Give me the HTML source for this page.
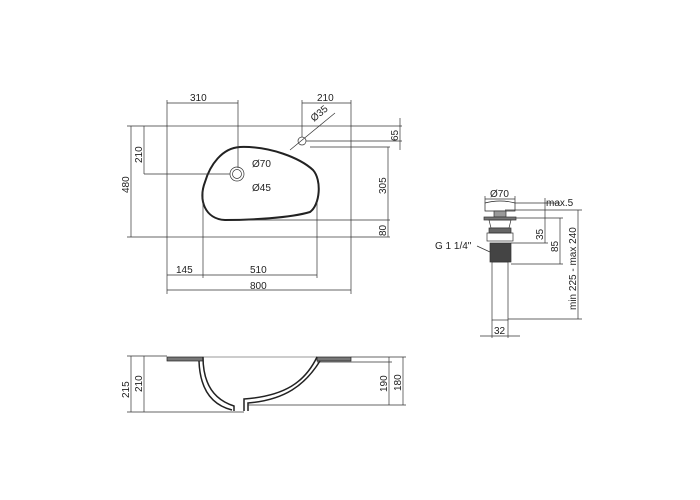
<!DOCTYPE html>
<html><head><meta charset="utf-8"><style>body{margin:0;background:#fff}svg{display:block}text{font-family:"Liberation Sans",sans-serif;font-size:10px;fill:#222}</style></head><body>
<svg width="700" height="500" viewBox="0 0 700 500" xmlns="http://www.w3.org/2000/svg">
<g stroke="#333" stroke-width="0.7" fill="none">
<!-- top view -->
<rect x="167" y="126" width="184" height="111"/>
<path d="M240,147 C270,146 300,158 313,170 C322,180 320,205 310,212 C290,218 250,220 225,220 C205,219 198,200 205,182 C210,165 222,148 240,147 Z" stroke="#222" stroke-width="2"/>
<circle cx="237" cy="174" r="7"/><circle cx="237" cy="174" r="4.5"/>
<circle cx="302" cy="141" r="4"/>
<line x1="167" y1="126" x2="167" y2="100"/><line x1="238" y1="168" x2="238" y2="100"/><line x1="167" y1="103" x2="238" y2="103"/>
<line x1="302" y1="137" x2="302" y2="100"/><line x1="351" y1="126" x2="351" y2="100"/><line x1="302" y1="103" x2="351" y2="103"/>
<line x1="290" y1="150" x2="335" y2="113"/>
<line x1="127" y1="126" x2="167" y2="126"/><line x1="127" y1="237" x2="167" y2="237"/><line x1="131" y1="126" x2="131" y2="237"/>
<line x1="144" y1="126" x2="144" y2="174"/><line x1="144" y1="174" x2="230" y2="174"/>
<line x1="351" y1="126" x2="402" y2="126"/><line x1="306" y1="141" x2="402" y2="141"/><line x1="400" y1="118" x2="400" y2="150"/>
<line x1="310" y1="147" x2="390" y2="147"/><line x1="388" y1="147" x2="388" y2="237"/>
<line x1="240" y1="220" x2="390" y2="220"/><line x1="351" y1="237" x2="390" y2="237"/>
<line x1="167" y1="237" x2="167" y2="294"/><line x1="203" y1="190" x2="203" y2="278"/><line x1="317" y1="200" x2="317" y2="278"/><line x1="351" y1="237" x2="351" y2="294"/>
<line x1="167" y1="275" x2="317" y2="275"/><line x1="167" y1="290" x2="351" y2="290"/>
<!-- side view -->
<line x1="203" y1="357" x2="317" y2="357" stroke="#bbb" stroke-width="1.5"/>
<rect x="167" y="357" width="36" height="4" fill="#777" stroke="#222"/>
<rect x="317" y="357" width="34" height="4" fill="#777" stroke="#222"/>
<path d="M203,357 C203,385 215,400 234,406 V411" stroke="#222" stroke-width="1.5"/>
<path d="M199,361 C200,390 212,405 232,410" stroke="#222" stroke-width="1.5"/>
<path d="M317,357 C305,382 285,396 244,399 V411 M320,361 C305,385 285,400 248,403 V411" stroke="#222" stroke-width="1.5"/>
<line x1="127" y1="356" x2="167" y2="356"/><line x1="127" y1="412" x2="244" y2="412"/><line x1="131" y1="356" x2="131" y2="412"/><line x1="144" y1="356" x2="144" y2="412"/>
<line x1="351" y1="357" x2="406" y2="357"/><line x1="317" y1="362" x2="392" y2="362"/><line x1="248" y1="405" x2="406" y2="405"/>
<line x1="389" y1="357" x2="389" y2="405"/><line x1="403" y1="357" x2="403" y2="405"/>
<!-- drain -->
<path d="M485,211 V203 Q500,199 515,203 V211 Z" stroke="#222"/>
<rect x="494" y="211" width="12" height="6" fill="#999"/>
<rect x="484" y="217" width="32" height="3" fill="#777"/>
<path d="M489,220 H511 L509,228 H491 Z"/>
<rect x="489" y="228" width="22" height="5" fill="#666"/>
<rect x="487" y="233" width="26" height="8"/>
<rect x="490" y="243" width="21" height="19" fill="#444"/>
<rect x="492" y="262" width="16" height="58"/>
<line x1="485" y1="203" x2="485" y2="196"/><line x1="515" y1="203" x2="515" y2="196"/><line x1="485" y1="199" x2="515" y2="199"/>
<line x1="515" y1="203" x2="560" y2="203"/><line x1="505" y1="210" x2="582" y2="210"/><line x1="516" y1="218" x2="563" y2="218"/>
<line x1="511" y1="243" x2="548" y2="243"/><line x1="511" y1="264" x2="563" y2="264"/><line x1="508" y1="319" x2="582" y2="319"/>
<line x1="545" y1="198" x2="545" y2="243"/><line x1="560" y1="218" x2="560" y2="264"/><line x1="578" y1="210" x2="578" y2="319"/>
<line x1="492" y1="320" x2="492" y2="338"/><line x1="508" y1="320" x2="508" y2="338"/><line x1="480" y1="336" x2="520" y2="336"/>
<line x1="477" y1="246" x2="490" y2="252"/>
</g>
<text x="190" y="101">310</text><text x="317" y="101">210</text>
<text x="314" y="122" transform="rotate(-40 314 122)">Ø35</text>
<text x="252" y="167">Ø70</text><text x="252" y="191">Ø45</text>
<text transform="translate(129,193) rotate(-90)">480</text>
<text transform="translate(142,163) rotate(-90)">210</text>
<text transform="translate(398,141) rotate(-90)">65</text>
<text transform="translate(386,194) rotate(-90)">305</text>
<text transform="translate(386,236) rotate(-90)">80</text>
<text x="176" y="273">145</text><text x="250" y="273">510</text><text x="250" y="289">800</text>
<text transform="translate(129,398) rotate(-90)">215</text>
<text transform="translate(142,392) rotate(-90)">210</text>
<text transform="translate(387,392) rotate(-90)">190</text>
<text transform="translate(401,391) rotate(-90)">180</text>
<text x="490" y="197">Ø70</text><text x="546" y="206">max.5</text>
<text transform="translate(543,240) rotate(-90)">35</text>
<text transform="translate(558,252) rotate(-90)">85</text>
<text transform="translate(576,310) rotate(-90)">min 225 - max 240</text>
<text x="435" y="249">G 1 1/4"</text><text x="494" y="334">32</text>
</svg>
</body></html>
